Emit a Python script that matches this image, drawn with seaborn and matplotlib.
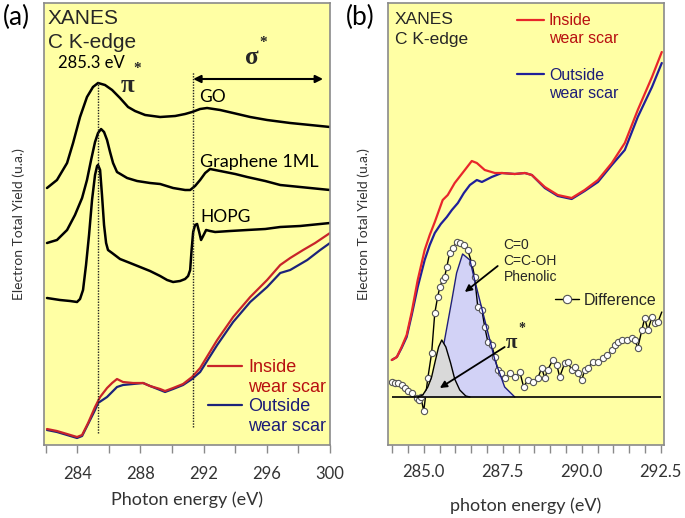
import matplotlib
matplotlib.use("Agg")
import matplotlib.pyplot as plt
from matplotlib.lines import Line2D
import seaborn as sns

# ---------------- Panel (a) data (photon energy in eV, yield in arbitrary units) -------------
go_e = [282.09, 282.72, 283.36, 283.74, 284.18, 284.62, 285.00, 285.32, 285.76, 286.21, 286.71,
        287.22, 287.66, 288.30, 289.25, 290.20, 290.83, 291.27, 291.78, 292.22, 293.05, 293.87,
        294.95, 296.02, 297.48, 298.75, 300.0]
go_y = [257, 265, 282, 302, 328, 348, 358, 362, 360, 355, 347, 338, 334, 330, 328, 329, 331, 333,
        336, 337, 335, 332, 328, 325, 322, 320, 318]

gr_e = [282.09, 282.72, 283.36, 283.86, 284.31, 284.62, 284.88, 285.13, 285.32, 285.51, 285.70,
        285.89, 286.08, 286.27, 286.52, 287.16, 287.79, 288.61, 289.25, 290.07, 290.83, 291.15,
        291.46, 291.78, 292.10, 292.41, 293.05, 294.00, 294.76, 295.90, 296.85, 298.11, 300.0]
gr_y = [202, 205, 215, 230, 247, 265, 285, 303, 312, 316, 313, 305, 293, 282, 273, 267, 264, 262,
        261, 257, 255, 255, 259, 265, 272, 276, 274, 271, 268, 264, 260, 258, 255]

hopg_e = [282.09, 282.91, 283.55, 283.99, 284.18, 284.37, 284.56, 284.75, 284.94, 285.13, 285.26,
          285.32, 285.45, 285.57, 285.70, 285.83, 285.95, 286.21, 286.71, 287.35, 287.98, 288.61,
          289.25, 289.69, 290.07, 290.51, 290.83, 291.02, 291.15, 291.24, 291.34, 291.46, 291.59,
          291.72, 291.84, 291.97, 292.16, 292.41, 292.73, 293.68, 294.76, 295.90, 296.85, 298.11,
          300.0]
hopg_y = [147, 145, 144, 143, 146, 155, 180, 210, 245, 270, 279, 280, 275, 250, 220, 202, 195, 192,
          186, 182, 178, 174, 169, 165, 163, 164, 166, 169, 175, 195, 213, 220, 221, 213, 205, 209,
          215, 214, 213, 214, 215, 216, 218, 219, 222]

ins_a_e = [282.09, 282.72, 283.36, 283.99, 284.31, 284.69, 285.13, 285.45, 285.89, 286.21, 286.52,
           286.90, 287.54, 288.17, 288.61, 289.25, 289.56, 290.07, 290.70, 291.27, 291.78, 292.86,
           293.87, 294.95, 296.02, 296.85, 297.48, 298.30, 299.06, 300.0]
ins_a_y = [16, 14, 11, 8, 10, 22, 38, 48, 57, 62, 66, 63, 62, 62, 59, 56, 54, 57, 61, 68, 77, 105,
           128, 148, 165, 180, 187, 195, 202, 212]

out_a_e = [282.09, 282.72, 283.36, 283.99, 284.31, 284.69, 285.13, 285.32, 285.89, 286.52, 286.90,
           287.54, 288.17, 288.61, 289.25, 289.56, 290.07, 290.70, 291.27, 291.78, 292.86, 293.87,
           294.95, 296.02, 296.85, 297.48, 298.56, 299.38, 300.0]
out_a_y = [15, 13, 10, 7, 9, 21, 35, 42, 48, 58, 60, 61, 62, 59, 55, 53, 56, 60, 66, 73, 100, 123,
           143, 158, 172, 175, 185, 195, 202]

a_ticks = [284, 288, 292, 296, 300]
a_minor = [282, 286, 290, 294, 298]
pi_edge = 285.3
sigma_edge = 291.3

# ---------------- Panel (b) data ----------------
ins_b_e = [283.99, 284.15, 284.30, 284.46, 284.62, 284.81, 285.03, 285.19, 285.35, 285.60, 285.76,
           285.98, 286.30, 286.52, 286.68, 286.93, 287.25, 287.47, 287.88, 288.20, 288.42, 288.83,
           289.24, 289.68, 290.09, 290.51, 290.95, 291.36, 291.77, 292.22, 292.53]
ins_b_y = [85, 88, 98, 110, 133, 165, 195, 210, 223, 245, 250, 262, 275, 284, 282, 275, 272, 272,
           271, 272, 270, 258, 250, 247, 255, 265, 282, 302, 335, 368, 393]

out_b_e = [283.99, 284.15, 284.30, 284.46, 284.62, 284.81, 285.03, 285.19, 285.35, 285.54, 285.73,
           285.89, 286.08, 286.27, 286.46, 286.68, 286.84, 287.15, 287.47, 287.88, 288.20, 288.42,
           288.83, 289.24, 289.68, 290.09, 290.51, 290.95, 291.36, 291.77, 292.22, 292.53]
out_b_y = [85, 88, 97, 108, 130, 158, 185, 200, 212, 221, 228, 235, 242, 252, 260, 265, 263, 268,
           272, 271, 272, 270, 257, 249, 246, 254, 263, 280, 295, 328, 358, 382]

diff_e = [283.99, 284.08, 284.18, 284.30, 284.40, 284.49, 284.62, 284.78, 284.84, 284.91, 285.00,
          285.13, 285.25, 285.35, 285.44, 285.51, 285.60, 285.66, 285.73, 285.82, 285.92, 286.04,
          286.14, 286.27, 286.39, 286.52, 286.61, 286.71, 286.84, 286.93, 287.03, 287.15, 287.25,
          287.34, 287.44, 287.56, 287.72, 287.88, 288.04, 288.16, 288.29, 288.45, 288.61, 288.73,
          288.83, 288.92, 289.08, 289.21, 289.30, 289.46, 289.56, 289.68, 289.78, 289.87, 290.00,
          290.09, 290.19, 290.35, 290.51, 290.66, 290.79, 290.95, 291.04, 291.14, 291.27, 291.42,
          291.58, 291.68, 291.77, 291.90, 291.99, 292.09, 292.22, 292.31, 292.41, 292.53]
diff_y = [63, 62, 62, 60, 57, 54, 52, 47, 45, 48, 34, 67, 92, 132, 148, 158, 165, 168, 178, 192,
          197, 203, 202, 200, 195, 182, 168, 138, 135, 118, 103, 100, 88, 75, 72, 67, 72, 68, 73,
          58, 65, 63, 67, 77, 67, 75, 85, 80, 68, 82, 83, 75, 78, 72, 65, 75, 77, 83, 83, 87, 90,
          95, 100, 103, 105, 105, 107, 105, 97, 115, 127, 115, 128, 122, 123, 133]

baseline_y = 48
base_e = [284.0, 292.5]

pi_peak_e = [284.81, 284.97, 285.13, 285.25, 285.35, 285.47, 285.57, 285.70, 285.85, 285.98,
             286.14, 286.33, 286.46]
pi_peak_y = [48, 50, 58, 68, 82, 98, 105, 98, 82, 66, 55, 49, 48]

co_peak_e = [284.97, 285.09, 285.28, 285.47, 285.66, 285.89, 286.04, 286.23, 286.46, 286.61,
             286.93, 287.25, 287.56, 287.88]
co_peak_y = [48, 49, 56, 73, 105, 145, 172, 191, 185, 165, 125, 85, 58, 48]

b_ticks = [285.0, 287.5, 290.0, 292.5]
b_tick_labels = ["285.0", "287.5", "290.0", "292.5"]
b_minor = [284.0, 284.5, 285.5, 286.0, 286.5, 287.0, 288.0, 288.5, 289.0, 289.5, 290.5, 291.0,
           291.5, 292.0]

# ---------------- Style ----------------
sns.set_theme(style="white")
plt.rcParams["font.family"] = ["Lato", "DejaVu Sans"]

YELLOW = "#ffffa4"
SPINE = "#8a8a8a"
TXT = "#333333"
RED_A, BLUE_A = "#c8242a", "#1c237a"
RED_B, BLUE_B = "#e8262b", "#1f1f9a"
RED_T, BLUE_T = "#b81010", "#1c1c78"
ARIAL = ["Liberation Sans", "DejaVu Sans"]
SERIF = ["Liberation Serif", "DejaVu Serif"]

fig = plt.figure(figsize=(6.85, 5.18), dpi=100)
ax1 = fig.add_axes([44 / 685, 73 / 518, 286 / 685, 442 / 518])
ax2 = fig.add_axes([388 / 685, 73 / 518, 276 / 685, 442 / 518])

for ax in (ax1, ax2):
    ax.set_facecolor(YELLOW)
    for s in ax.spines.values():
        s.set_color(SPINE)
        s.set_linewidth(1.2)
        s.set_visible(True)
    ax.set_ylim(0, 442)
    ax.tick_params(axis="x", which="both", direction="out", length=6, width=1,
                   color=SPINE, bottom=True, labelsize=12, labelcolor=TXT, pad=9)

# ---------------- Panel (a) ----------------
kw = dict(ax=ax1, sort=False, estimator=None, legend=False)
sns.lineplot(x=go_e, y=go_y, color="black", lw=1.8, **kw)
sns.lineplot(x=gr_e, y=gr_y, color="black", lw=1.8, **kw)
sns.lineplot(x=hopg_e, y=hopg_y, color="black", lw=1.8, **kw)
sns.lineplot(x=out_a_e, y=out_a_y, color=BLUE_A, lw=1.6, **kw)
sns.lineplot(x=ins_a_e, y=ins_a_y, color=RED_A, lw=1.6, **kw)

ax1.vlines(pi_edge, 12, 363, colors="#222222", linestyles=(0, (1, 1)), lw=1)
ax1.vlines(sigma_edge, 18, 373, colors="#222222", linestyles=(0, (1, 1)), lw=1)

ax1.set_xlim(281.9, 300.0)
ax1.set_xticks(a_ticks)
ax1.set_xticks(a_minor, minor=True)
ax1.set_xlabel("Photon energy (eV)", fontsize=13, color=TXT, labelpad=7)

ax1.text(282.15, 421, "XANES", family=ARIAL, fontsize=15, va="baseline", ha="left")
ax1.text(282.15, 397, "C K-edge", family=ARIAL, fontsize=15, va="baseline", ha="left")
ax1.text(282.79, 377, "285.3 eV", fontsize=12, va="baseline", ha="left", color="black")
ax1.text(287.19, 360, "π", family=SERIF, fontweight="bold", fontsize=18, ha="center", va="center")
ax1.text(287.79, 377, "*", family=SERIF, fontweight="bold", fontsize=11, ha="center", va="center")
ax1.text(295.04, 388, "σ", family=SERIF, fontweight="bold", fontsize=18, ha="center", va="center")
ax1.text(295.77, 402, "*", family=SERIF, fontweight="bold", fontsize=11, ha="center", va="center")
ax1.annotate("", xy=(299.56, 366), xytext=(291.34, 366),
             arrowprops=dict(arrowstyle="<|-|>", color="black", lw=1.5, mutation_scale=11,
                             shrinkA=0, shrinkB=0))
ax1.text(291.69, 343, "GO", fontsize=12.5, va="baseline", ha="left", color="black")
ax1.text(291.78, 278, "Graphene 1ML", fontsize=13, va="baseline", ha="left", color="black")
ax1.text(291.78, 223, "HOPG", fontsize=12.5, va="baseline", ha="left", color="black")

h_a = [Line2D([], [], color=RED_A, lw=1.6), Line2D([], [], color="none"),
       Line2D([], [], color=BLUE_A, lw=1.6), Line2D([], [], color="none")]
leg_a = ax1.legend(h_a, ["Inside", "wear scar", "Outside", "wear scar"], loc="upper left",
                   bbox_to_anchor=(0.573, 0.194), frameon=False,
                   prop=dict(family=ARIAL, size=13), handlelength=1.9, handletextpad=0.35,
                   labelspacing=0.14, borderpad=0, borderaxespad=0)
for t, c in zip(leg_a.get_texts(), [RED_T, RED_T, BLUE_T, BLUE_T]):
    t.set_color(c)

# ---------------- Panel (b) ----------------
kw = dict(ax=ax2, sort=False, estimator=None, legend=False)
ax2.fill_between(co_peak_e, baseline_y, co_peak_y, color="#d2d2f6", lw=0, zorder=2)
ax2.plot(co_peak_e, co_peak_y, color="#1f1f80", lw=1, zorder=2.1)
ax2.fill_between(pi_peak_e, baseline_y, pi_peak_y, color="#d9d9d9", lw=0, zorder=2.2)
ax2.plot(pi_peak_e, pi_peak_y, color="black", lw=1, zorder=2.3)
ax2.hlines(baseline_y, base_e[0], base_e[1], colors="black", lw=1.2, zorder=2.4)

sns.lineplot(x=out_b_e, y=out_b_y, color=BLUE_B, lw=1.6, **kw)
sns.lineplot(x=ins_b_e, y=ins_b_y, color=RED_B, lw=1.6, **kw)
sns.lineplot(x=diff_e, y=diff_y, color="black", lw=1, marker="o", markersize=4.5,
             markerfacecolor="white", markeredgecolor="#555555", markeredgewidth=0.8,
             markevery=list(range(len(diff_e) - 1)), **kw)

ax2.set_xlim(283.87, 292.6)
ax2.set_xticks(b_ticks)
ax2.set_xticklabels(b_tick_labels)
ax2.set_xticks(b_minor, minor=True)
ax2.tick_params(axis="x", which="both", pad=8)
ax2.set_xlabel("photon energy (eV)", fontsize=13, color=TXT, labelpad=12)

for ax in (ax1, ax2):
    ax.set_yticks([])
    ax.set_ylabel("")
    ax.text(-0.0874, 0.5, "Electron Total Yield (u.a.)", transform=ax.transAxes, rotation=90,
            ha="center", va="center", fontsize=10, color=TXT)

ax2.text(284.08, 421, "XANES", family=ARIAL, fontsize=12.5, va="baseline", ha="left")
ax2.text(284.08, 401, "C K-edge", family=ARIAL, fontsize=12.5, va="baseline", ha="left")
ax2.text(287.53, 207, "C=0\nC=C-OH\nPhenolic", family=ARIAL, fontsize=10, va="top", ha="left",
         linespacing=1.2)
ax2.annotate("", xy=(286.30, 153), xytext=(287.34, 179),
             arrowprops=dict(arrowstyle="-|>", color="black", lw=1.3, mutation_scale=10,
                             shrinkA=0, shrinkB=0))
ax2.text(287.78, 102, "π", family=SERIF, fontweight="bold", fontsize=15, ha="center", va="center")
ax2.text(288.12, 116, "*", family=SERIF, fontweight="bold", fontsize=10, ha="center", va="center")
ax2.annotate("", xy=(285.51, 57), xytext=(287.56, 98),
             arrowprops=dict(arrowstyle="-|>", color="black", lw=1.3, mutation_scale=10,
                             shrinkA=0, shrinkB=0))

h_b = [Line2D([], [], color=RED_B, lw=1.6), Line2D([], [], color="none"),
       Line2D([], [], color="none"),
       Line2D([], [], color=BLUE_B, lw=1.6), Line2D([], [], color="none")]
leg_b = ax2.legend(h_b, ["Inside", "wear scar", " ", "Outside", "wear scar"], loc="upper left",
                   bbox_to_anchor=(0.467, 0.977), frameon=False,
                   prop=dict(family=ARIAL, size=11.5), handlelength=1.7, handletextpad=0.3,
                   labelspacing=0.2, borderpad=0, borderaxespad=0)
for t, c in zip(leg_b.get_texts(), [RED_T, RED_T, RED_T, BLUE_T, BLUE_T]):
    t.set_color(c)
ax2.add_artist(leg_b)

h_d = [Line2D([], [], color="black", lw=1, marker="o", markersize=6, markerfacecolor="white",
              markeredgecolor="#555555", markeredgewidth=0.8)]
ax2.legend(h_d, ["Difference"], loc="upper left", bbox_to_anchor=(0.605, 0.344), frameon=False,
           prop=dict(family=ARIAL, size=11.5), handlelength=1.5, handletextpad=0.3,
           borderpad=0, borderaxespad=0, numpoints=1)

fig.text(3 / 685, 1 - 17 / 518, "(a)", fontsize=19, ha="left", va="center", color="black")
fig.text(346 / 685, 1 - 17 / 518, "(b)", fontsize=19, ha="left", va="center", color="black")

fig.savefig("out.png", dpi=100)
